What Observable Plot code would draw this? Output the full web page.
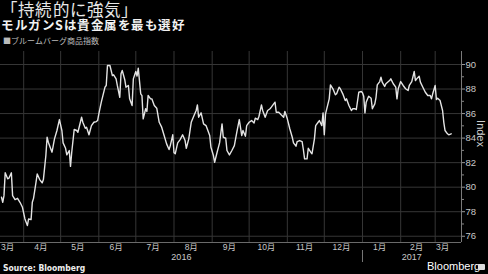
<!DOCTYPE html>
<html><head><meta charset="utf-8">
<script src="https://cdn.jsdelivr.net/npm/d3@7"></script>
<script src="https://cdn.jsdelivr.net/npm/@observablehq/plot@0.6"></script>
<style>
@font-face{font-family:"TightJP";src:local("Noto Sans CJK JP Regular"),local("NotoSansCJKjp-Regular"),local("Noto Sans CJK JP");font-weight:400;ascent-override:90%;descent-override:15%;line-gap-override:0%;}
@font-face{font-family:"TightJP";src:local("Noto Sans CJK JP Bold"),local("NotoSansCJKjp-Bold");font-weight:700;ascent-override:90%;descent-override:15%;line-gap-override:0%;}
html,body{margin:0;padding:0;background:#000;}
#wrap{position:relative;width:488px;height:274px;overflow:hidden;background:#000;font-family:"TightJP","Noto Sans CJK JP","Liberation Sans",sans-serif;}
#title{position:absolute;left:1px;top:1px;font-size:16.5px;color:#e8e8e8;line-height:18px;white-space:nowrap;letter-spacing:0.2px;}
#subtitle{position:absolute;left:1px;top:19px;font-size:12.5px;font-weight:bold;color:#f2f2f2;line-height:14px;white-space:nowrap;letter-spacing:0.5px;}
#legend{position:absolute;left:3px;top:36px;font-size:8px;color:#bbb;line-height:10px;white-space:nowrap;}
#chart{position:absolute;left:0;top:46px;}
#source{position:absolute;left:3px;top:263px;font-size:8.5px;font-weight:bold;color:#eee;font-family:"Liberation Sans Narrow","DejaVu Sans Condensed","Liberation Sans",sans-serif;line-height:11px;white-space:nowrap;}
#logo{position:absolute;left:427px;top:259px;font-size:11px;color:#fff;font-family:"Liberation Sans",sans-serif;line-height:14px;white-space:nowrap;}
#icon{position:absolute;left:478px;top:264px;width:7px;height:6px;background:#ddd;border-radius:1px;}
</style>
</head><body>
<div id="wrap">
  <div id="title">「持続的に強気」</div>
  <div id="subtitle">モルガンSは貴金属を最も選好</div>
  <div id="legend">■ブルームバーグ商品指数</div>
  <div id="chart"></div>
  <div id="source">Source: Bloomberg</div>
  <div id="logo">Bloomberg</div>
  <div id="icon"></div>
</div>
<script>
// Bloomberg Commodity Index
const dates = [
"2016-03-14","2016-03-15","2016-03-16","2016-03-17","2016-03-19","2016-03-20","2016-03-22","2016-03-23","2016-03-25","2016-03-27",
"2016-03-29","2016-03-31","2016-04-02","2016-04-04","2016-04-05","2016-04-07","2016-04-08","2016-04-09","2016-04-11","2016-04-12",
"2016-04-14","2016-04-16","2016-04-17","2016-04-19","2016-04-20","2016-04-21","2016-04-23","2016-04-24","2016-04-26","2016-04-28",
"2016-04-30","2016-05-02","2016-05-03","2016-05-05","2016-05-06","2016-05-08","2016-05-09","2016-05-10","2016-05-12","2016-05-14",
"2016-05-15","2016-05-18","2016-05-19","2016-05-21","2016-05-22","2016-05-24","2016-05-26","2016-05-28","2016-05-30","2016-05-31",
"2016-06-01","2016-06-03","2016-06-06","2016-06-07","2016-06-08","2016-06-10","2016-06-12","2016-06-13","2016-06-15","2016-06-16",
"2016-06-18","2016-06-19","2016-06-20","2016-06-22","2016-06-23","2016-06-25","2016-06-26","2016-06-28","2016-06-29","2016-07-01",
"2016-07-02","2016-07-03","2016-07-05","2016-07-06","2016-07-07","2016-07-09","2016-07-10","2016-07-11","2016-07-13","2016-07-14",
"2016-07-16","2016-07-18","2016-07-20","2016-07-22","2016-07-24","2016-07-26","2016-07-28","2016-07-29","2016-07-31","2016-08-01",
"2016-08-02","2016-08-04","2016-08-06","2016-08-08","2016-08-10","2016-08-11","2016-08-13","2016-08-15","2016-08-17","2016-08-19",
"2016-08-20","2016-08-21","2016-08-23","2016-08-25","2016-08-27","2016-08-30","2016-08-31","2016-09-02","2016-09-03","2016-09-05",
"2016-09-07","2016-09-09","2016-09-10","2016-09-12","2016-09-13","2016-09-15","2016-09-17","2016-09-19","2016-09-21","2016-09-23",
"2016-09-25","2016-09-26","2016-09-28","2016-09-29","2016-10-01","2016-10-03","2016-10-05","2016-10-06","2016-10-08","2016-10-09",
"2016-10-11","2016-10-12","2016-10-14","2016-10-16","2016-10-18","2016-10-19","2016-10-22","2016-10-23","2016-10-25","2016-10-27",
"2016-10-29","2016-10-30","2016-11-01","2016-11-03","2016-11-05","2016-11-06","2016-11-08","2016-11-09","2016-11-11","2016-11-13",
"2016-11-14","2016-11-15","2016-11-17","2016-11-18","2016-11-20","2016-11-21","2016-11-23","2016-11-24","2016-11-26","2016-11-27",
"2016-11-29","2016-11-30","2016-12-01","2016-12-02","2016-12-04","2016-12-05","2016-12-06","2016-12-08","2016-12-10","2016-12-11",
"2016-12-13","2016-12-14","2016-12-16","2016-12-18","2016-12-19","2016-12-21","2016-12-23","2016-12-24","2016-12-26","2016-12-27",
"2016-12-29","2016-12-31","2017-01-01","2017-01-02","2017-01-03","2017-01-04","2017-01-06","2017-01-08","2017-01-09","2017-01-11",
"2017-01-12","2017-01-13","2017-01-15","2017-01-16","2017-01-17","2017-01-19","2017-01-20","2017-01-23","2017-01-24","2017-01-26",
"2017-01-28","2017-01-29","2017-01-30","2017-02-01","2017-02-03","2017-02-05","2017-02-07","2017-02-08","2017-02-10","2017-02-12",
"2017-02-13","2017-02-14","2017-02-16","2017-02-17","2017-02-19","2017-02-21","2017-02-23","2017-02-25","2017-02-26","2017-02-27",
"2017-03-01","2017-03-02","2017-03-03","2017-03-05","2017-03-07","2017-03-08","2017-03-09","2017-03-11","2017-03-12","2017-03-14"
];
const values = [
79.18,78.77,79.31,81.17,80.68,80.73,81.17,79.31,78.99,79.09,
78.77,78.36,77.41,76.87,77.41,77.36,78.77,79.09,80.40,81.08,
80.62,80.35,80.62,82.58,84.07,83.66,83.12,82.85,83.94,84.62,
85.51,84.62,83.61,83.17,82.63,82.99,81.70,82.85,84.70,84.62,
84.48,85.70,85.29,84.80,84.89,84.27,85.02,85.29,85.35,85.43,
85.98,86.93,88.15,88.29,89.92,89.92,89.10,89.16,88.83,88.29,
87.33,89.24,89.51,88.78,88.15,88.29,87.20,86.66,88.83,89.43,
89.05,89.70,87.61,87.47,85.57,86.39,86.17,87.47,87.20,87.20,
86.66,86.44,85.29,84.89,84.21,83.53,83.07,83.39,84.27,82.80,
82.72,83.61,83.88,84.27,83.80,83.17,83.94,85.29,85.78,86.25,
86.71,85.70,86.06,85.16,85.02,84.21,83.25,82.58,82.03,82.85,
83.61,85.16,84.07,83.99,82.99,82.63,82.99,83.39,84.48,85.51,
84.21,84.62,84.15,85.02,85.29,85.43,85.24,85.62,85.51,85.78,
86.71,86.25,85.70,86.25,86.39,86.52,86.93,86.11,86.11,85.90,
85.70,86.17,85.57,84.76,84.07,83.61,83.34,83.72,83.80,83.72,
83.07,82.31,82.31,83.17,82.85,82.72,83.94,85.02,85.29,85.43,
85.02,86.06,84.27,85.98,86.79,87.20,88.34,88.02,87.53,87.61,
88.15,88.02,87.61,87.06,87.20,86.66,86.25,86.39,86.39,86.33,
87.74,87.80,87.69,87.41,86.06,86.93,87.41,87.25,86.39,86.79,
87.33,88.34,88.61,88.96,88.56,88.21,88.43,88.69,88.83,88.43,
88.15,87.20,88.02,88.61,88.29,88.02,87.88,88.29,88.61,89.43,
88.69,88.83,89.05,88.56,88.15,87.74,87.47,87.47,87.20,87.61,
88.29,87.15,87.25,87.06,86.25,85.29,84.62,84.35,84.27,84.35
];
const monthStarts = ["2016-04-01","2016-05-01","2016-06-01","2016-07-01","2016-08-01","2016-09-01","2016-10-01","2016-11-01","2016-12-01","2017-01-01","2017-02-01","2017-03-01"];
const monthLabelDates = ["2016-03-19","2016-04-15","2016-05-15","2016-06-15","2016-07-15","2016-08-15","2016-09-15","2016-10-15","2016-11-15","2016-12-15","2017-01-15","2017-02-14","2017-03-07"];
const monthLabels = ["3月","4月","5月","6月","7月","8月","9月","10月","11月","12月","1月","2月","3月"];
const yearLabelDates = ["2016-08-07","2017-02-10"];
const yearLabels = ["2016","2017"];
const yearBreaks = ["2017-01-01"];
const yMajor = [76,78,80,82,84,86,88,90];
const yMinor = [77,79,81,83,85,87,89];
const yTitle = "Index";

const parse = d3.isoParse;
const data = dates.map((d, i) => ({date: parse(d), value: values[i]}));
const months = monthLabelDates.map((d, i) => ({date: parse(d), label: monthLabels[i]}));
const years = yearLabelDates.map((d, i) => ({date: parse(d), label: yearLabels[i]}));
const xDomain = [new Date("2016-03-13T04:19:00Z"), new Date("2017-03-22T08:53:00Z")];
const yDomain = [75.49, 91.06];
const font = "'Liberation Sans','Noto Sans CJK JP',sans-serif";

const chart = Plot.plot({
  width: 488, height: 217,
  marginLeft: 0, marginRight: 27, marginTop: 5, marginBottom: 21,
  style: {background: "transparent", color: "#c8c8c8", fontFamily: font, fontSize: "9.5px", overflow: "visible"},
  x: {type: "utc", domain: xDomain, axis: null},
  y: {domain: yDomain, axis: null},
  marks: [
    Plot.ruleY(yMajor, {stroke: "#363636", strokeWidth: 1}),
    Plot.ruleX(monthStarts.map(parse), {stroke: "#363636", strokeWidth: 1}),
    Plot.ruleY([yDomain[0]], {stroke: "#6a6a6a", strokeWidth: 1}),
    Plot.ruleX([xDomain[1]], {stroke: "#7a7a7a", strokeWidth: 1}),
    Plot.axisY(yMinor, {anchor: "right", tickSize: 2, tickFormat: () => "", stroke: "#888", label: null}),
    Plot.axisY(yMajor, {anchor: "right", tickSize: 3, tickPadding: 1, stroke: "#999", fill: "#c8c8c8", fontSize: 9.5, label: null}),
    Plot.text([yTitle], {frameAnchor: "right", rotate: 90, dx: 19, fill: "#d0d0d0", fontSize: 11}),
    Plot.text(months, {x: "date", text: "label", frameAnchor: "bottom", lineAnchor: "top", dy: 1, fill: "#c8c8c8", fontSize: 8.5}),
    Plot.text(years, {x: "date", text: "label", frameAnchor: "bottom", lineAnchor: "top", dy: 11, fill: "#c8c8c8", fontSize: 9}),
    Plot.ruleX(yearBreaks.map(parse), {stroke: "#777", insetTop: 199, insetBottom: -20}),
    Plot.line(data, {x: "date", y: "value", stroke: "#e4e4e4", strokeWidth: 1.4})
  ]
});
document.getElementById("chart").appendChild(chart);
</script>
</body></html>
